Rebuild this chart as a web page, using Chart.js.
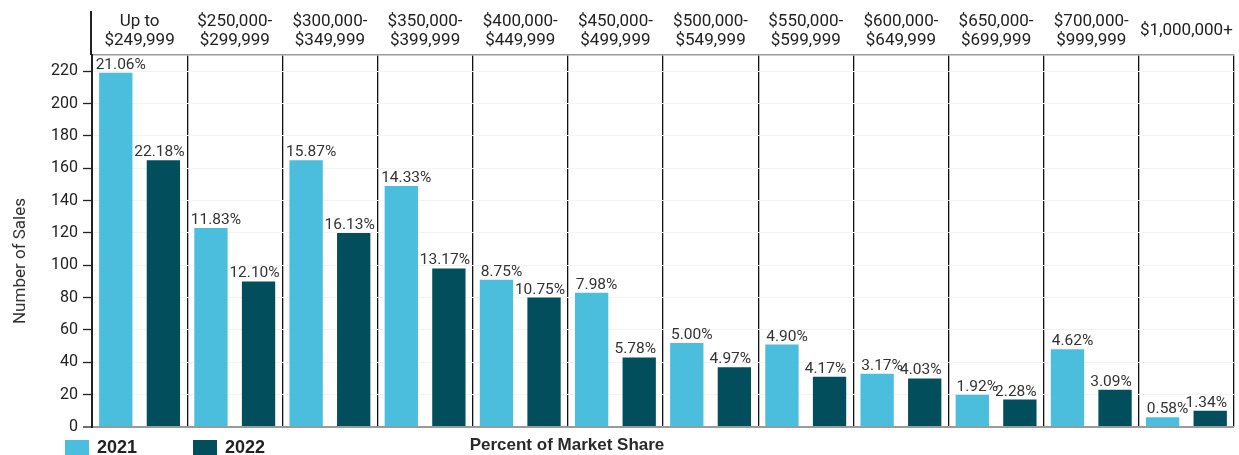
<!DOCTYPE html>
<html>
<head>
<meta charset="utf-8">
<script src="https://cdn.jsdelivr.net/npm/chart.js"></script>
<style>
html, body { margin: 0; padding: 0; background: #fff; }
#wrap { position: relative; width: 1239px; height: 455px; overflow: hidden; }
#legend { position: absolute; left: 65px; top: 437px; height: 20px; }
.item { position: absolute; top: 0; height: 20px; line-height: 20px; white-space: nowrap;
  font: bold 18px "Liberation Sans", Arial, sans-serif; color: #222; padding-left: 32px; }
.item .box { position: absolute; left: 0; top: 3px; width: 24px; height: 16px; }
#xtitle { position: absolute; left: 367px; width: 400px; top: 435px; line-height: 20px; text-align: center;
  font: bold 17px "Liberation Sans", Arial, sans-serif; color: #2a2a2a; }
#ytitle { position: absolute; left: 18.5px; top: 261px; width: 200px; margin-left: -100px; margin-top: -10px;
  line-height: 20px; text-align: center; transform: rotate(-90deg);
  font: 17px Roboto, sans-serif; color: #333; white-space: nowrap; }
</style>
</head>
<body>
<div id="wrap">
  <canvas id="myChart" width="1239" height="455"></canvas>
  <div id="ytitle">Number of Sales</div>
  <div id="legend"></div>
  <div id="xtitle">Percent of Market Share</div>
</div>
<script>
var categories = [
    ['Up to', '$249,999'], ['$250,000-', '$299,999'], ['$300,000-', '$349,999'],
    ['$350,000-', '$399,999'], ['$400,000-', '$449,999'], ['$450,000-', '$499,999'],
    ['$500,000-', '$549,999'], ['$550,000-', '$599,999'], ['$600,000-', '$649,999'],
    ['$650,000-', '$699,999'], ['$700,000-', '$999,999'], '$1,000,000+'
];
var sales2021 = [219, 123, 165, 149, 91, 83, 52, 51, 33, 20, 48, 6];
var sales2022 = [165, 90, 120, 98, 80, 43, 37, 31, 30, 17, 23, 10];
var pct2021 = [21.06, 11.83, 15.87, 14.33, 8.75, 7.98, 5.00, 4.90, 3.17, 1.92, 4.62, 0.58];
var pct2022 = [22.18, 12.10, 16.13, 13.17, 10.75, 5.78, 4.97, 4.17, 4.03, 2.28, 3.09, 1.34];
var yTicks = { min: 0, max: 230, step: 20 };

var percents = [pct2021, pct2022];

Chart.defaults.font.family = 'Roboto';
Chart.defaults.color = '#222';

// percent labels above the bars
var barLabels = {
    id: 'barLabels',
    afterDatasetsDraw: function(chart) {
        var ctx = chart.ctx;
        ctx.save();
        ctx.font = '15.5px Roboto';
        ctx.fillStyle = '#333';
        ctx.textAlign = 'center';
        ctx.textBaseline = 'alphabetic';
        chart.data.datasets.forEach(function(ds, i) {
            chart.getDatasetMeta(i).data.forEach(function(bar, j) {
                var shift = i === 0 ? 5 : -4;
                ctx.fillText(percents[i][j].toFixed(2) + '%', bar.x + shift, bar.y - 4);
            });
        });
        ctx.restore();
    },
    // y axis line runs up past the category labels
    afterDraw: function(chart) {
        var ctx = chart.ctx;
        var area = chart.chartArea;
        ctx.save();
        ctx.strokeStyle = '#222';
        ctx.lineWidth = 2;
        ctx.beginPath();
        ctx.moveTo(area.left - 1, 11);
        ctx.lineTo(area.left - 1, area.top);
        ctx.stroke();
        ctx.restore();
    }
};

var ctx = document.getElementById('myChart').getContext('2d');
var myChart = new Chart(ctx, {
    type: 'bar',
    data: {
        labels: categories,
        datasets: [{
            label: '2021',
            data: sales2021,
            backgroundColor: '#4ABEDC',
            categoryPercentage: 1,
            barPercentage: 0.7},
        {
            label: '2022',
            data: sales2022,
            backgroundColor: '#034E5D',
            categoryPercentage: 1,
            barPercentage: 0.7}
        ]
    },
    options: {
        responsive: false,
        animation: false,
        layout: {
            padding: { top: 12, right: 5, bottom: 28, left: 0 }
        },
        plugins: {
            legend: { display: false },
            tooltip: { enabled: false }
        },
        scales: {
            x: {
                position: 'top',
                offset: true,
                afterFit: function(scale) {
                    scale.height = 43;
                    scale.paddingLeft = 0;
                    scale.paddingRight = 0;
                },
                grid: {
                    offset: true,
                    color: '#111',
                    lineWidth: 1.3,
                    drawTicks: false
                },
                border: { color: '#9a9a9a', width: 1.5 },
                ticks: {
                    autoSkip: false,
                    maxRotation: 0,
                    crossAlign: 'center',
                    padding: 14.5,
                    color: '#222',
                    font: { size: 17, lineHeight: 1.12 }
                }
            },
            y: {
                min: yTicks.min,
                max: yTicks.max,
                afterFit: function(scale) { scale.width = 92; },
                grid: {
                    color: function(c) { return c.tick && c.tick.value === 0 ? '#9a9a9a' : '#f3f3f3'; },
                    lineWidth: function(c) { return c.tick && c.tick.value === 0 ? 2 : 1; },
                    tickColor: '#222',
                    tickLength: 9,
                    tickWidth: 1.3
                },
                border: { color: '#222', width: 2 },
                ticks: {
                    stepSize: yTicks.step,
                    includeBounds: false,
                    padding: 5,
                    color: '#222',
                    font: { size: 16 }
                }
            }
        }
    },
    plugins: [barLabels]
});

// legend below the chart
var legend = document.getElementById('legend');
myChart.data.datasets.forEach(function(ds, i) {
    var item = document.createElement('div');
    item.className = 'item';
    item.style.left = (i * 128) + 'px';
    var box = document.createElement('span');
    box.className = 'box';
    box.style.background = ds.backgroundColor;
    item.appendChild(box);
    item.appendChild(document.createTextNode(ds.label));
    legend.appendChild(item);
});
</script>
</body>
</html>
